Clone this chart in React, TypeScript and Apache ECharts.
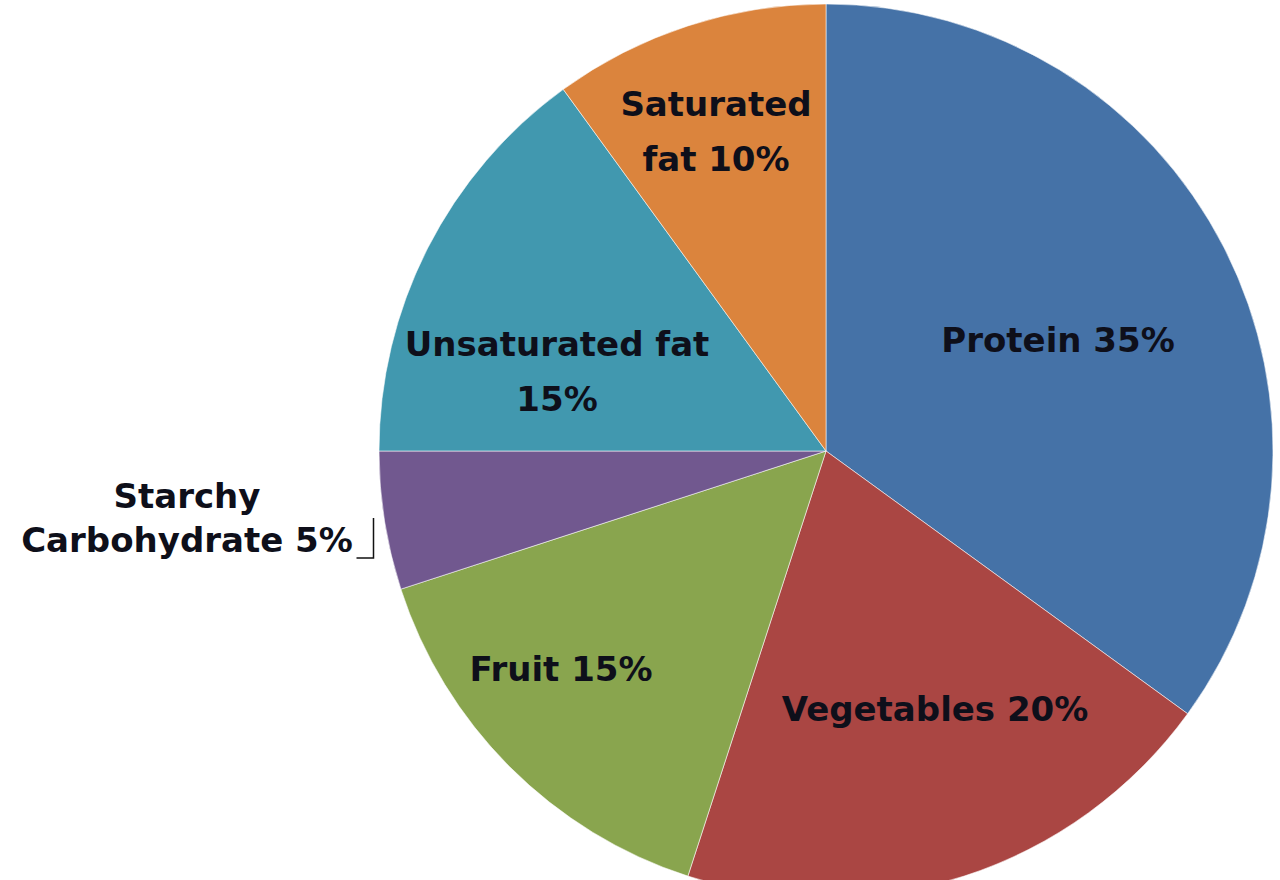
import React, { useEffect, useRef } from "react";
import * as echarts from "echarts";

const categories = ["Protein", "Vegetables", "Fruit", "Starchy Carbohydrate", "Unsaturated fat", "Saturated fat"];
const values = [35, 20, 15, 5, 15, 10];
const colors = ["#4572A7", "#AA4643", "#89A54E", "#71588F", "#4198AF", "#DB843D"];
// where the label text wraps
const labelTemplates = [
  "Protein {v}%",
  "Vegetables {v}%",
  "Fruit {v}%",
  "Starchy\nCarbohydrate {v}%",
  "Unsaturated fat\n{v}%",
  "Saturated\nfat {v}%",
];

// label anchor layout (pixel positions of label centres)
const LABEL_SPOTS: [number, number][] = [
  [1058, 340],
  [935, 709],
  [561, 669],
  [187, 518],
  [557, 371],
  [716, 131],
];

export default function App() {
  const ref = useRef<HTMLDivElement>(null);
  useEffect(() => {
    if (!ref.current) return;
    const chart = echarts.init(ref.current, null, { renderer: "svg" });
    const data = categories.map((name, i) => ({
      name,
      value: values[i],
      itemStyle: { color: colors[i] },
      label:
        i === 3
          ? { position: "outside", lineHeight: 44 }
          : { position: "inside", lineHeight: 55 },
      labelLine: { show: i === 3 },
    }));
    chart.setOption({
      animation: false,
      backgroundColor: "#ffffff",
      series: [
        {
          type: "pie",
          center: [826, 451],
          radius: [0, 447],
          startAngle: 90,
          clockwise: true,
          avoidLabelOverlap: false,
          itemStyle: { borderColor: "rgba(255,255,255,0.55)", borderWidth: 1 },
          label: {
            show: true,
            color: "#0e0f1a",
            fontFamily: "DejaVu Sans",
            fontWeight: "bold",
            fontSize: 34,
            align: "center",
            formatter: (p: any) =>
              labelTemplates[p.dataIndex].replace("{v}", String(p.value)),
          },
          labelLine: {
            show: false,
            lineStyle: { color: "#111111", width: 1.5 },
          },
          labelLayout: (p: any) => {
            const [x, y] = LABEL_SPOTS[p.dataIndex];
            const out: any = { x, y, align: "center", verticalAlign: "middle" };
            if (p.dataIndex === 3 && p.labelLinePoints) {
              const s = p.labelLinePoints[0];
              const bottom = y + 40;
              out.labelLinePoints = [
                [s[0] - 11, s[1] - 3],
                [s[0] - 11, bottom],
                [s[0] - 28, bottom],
              ];
            }
            return out;
          },
          data,
        },
      ],
    });
    return () => chart.dispose();
  }, []);
  return (
    <div
      ref={ref}
      style={{ position: "absolute", left: 0, top: 0, width: 1280, height: 880 }}
    />
  );
}
